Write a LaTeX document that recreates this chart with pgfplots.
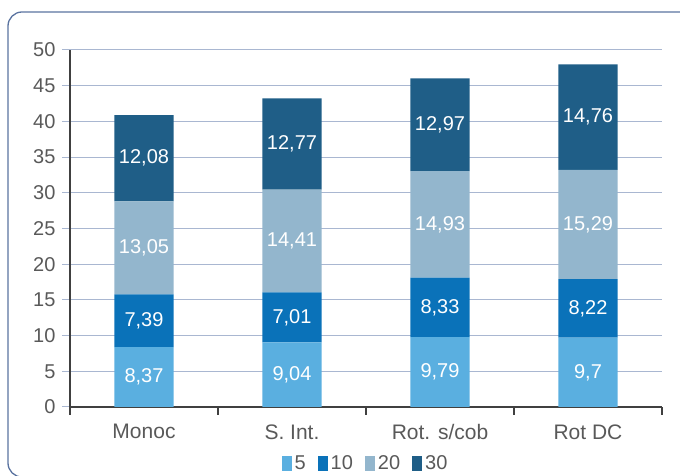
\documentclass[border=0pt]{standalone}
\usepackage{pgfplots}
\pgfplotsset{compat=1.18}
\usepackage{pgfplotstable}
\usepackage{fontspec}
\setmainfont{Liberation Sans}

\definecolor{cFive}{HTML}{5AAFE0}
\definecolor{cTen}{HTML}{0A72B9}
\definecolor{cTwenty}{HTML}{93B6CD}
\definecolor{cThirty}{HTML}{1F5E87}
\definecolor{gridcol}{HTML}{A9B7D1}
\definecolor{axiscol}{HTML}{404040}
\definecolor{labelcol}{HTML}{595959}
\definecolor{framecol}{HTML}{5A73A0}

% one row per group, one column per series
\pgfplotstableread{
x v5 v10 v20 v30
0 8.37 7.39 13.05 12.08
1 9.04 7.01 14.41 12.77
2 9.79 8.33 14.93 12.97
3 9.7 8.22 15.29 14.76
}\datatable

\begin{document}
\begin{tikzpicture}
\useasboundingbox (0,0) rectangle (680pt,476pt);
\clip (0,0) rectangle (680pt,476pt);
\draw[framecol, line width=1.3pt, rounded corners=14pt] (8pt,464pt) rectangle (720pt,-1pt);
\begin{axis}[
  at={(70pt,69pt)}, anchor=south west,
  scale only axis, width=592pt, height=357pt,
  ybar stacked, bar width=0.4,
  xmin=-0.5, xmax=3.5, ymin=0, ymax=50,
  enlarge x limits=false,
  axis lines=left,
  axis line style={-, draw=axiscol, line width=1.2pt},
  ytick={0,5,...,50},
  xtick={0,1,2,3},
  xticklabels={Monoc, S. Int., Rot. s/cob, Rot DC},
  minor xtick={-0.5,0.5,1.5,2.5,3.5},
  tick align=outside,
  major tick length=8pt, minor tick length=8pt,
  major x tick style={draw=none},
  minor x tick style={draw=axiscol, line width=1.2pt},
  ytick style={draw=gridcol, line width=1pt},
  ymajorgrids,
  grid style={draw=gridcol, line width=1pt},
  /pgf/number format/assume math mode=true,
  yticklabel style={font=\fontsize{20}{24}\selectfont, text=labelcol, xshift=-3pt},
  xticklabel style={font=\fontsize{21}{25}\selectfont, text=labelcol, yshift=-6pt},
  point meta=explicit,
  nodes near coords={\pgfmathprintnumber[fixed, precision=2, use comma, assume math mode=true]{\pgfplotspointmeta}},
  every node near coord/.append style={
    font=\fontsize{20}{24}\selectfont, text=white, anchor=center},
  legend style={draw=none, fill=none, at={(0.5,-0.157)}, anchor=center,
    legend columns=4, font=\fontsize{20}{24}\selectfont, text=labelcol,
    nodes={inner sep=3pt},
    /tikz/every even column/.append style={column sep=9pt}},
  legend image code/.code={\fill[#1] (0pt,-7.5pt) rectangle (10pt,7pt);},
]
\addplot[fill=cFive, draw=none] table[x=x, y=v5, meta=v5] {\datatable};
\addplot[fill=cTen, draw=none] table[x=x, y=v10, meta=v10] {\datatable};
\addplot[fill=cTwenty, draw=none] table[x=x, y=v20, meta=v20] {\datatable};
\addplot[fill=cThirty, draw=none] table[x=x, y=v30, meta=v30] {\datatable};
\legend{5,10,20,30}
\end{axis}
\end{tikzpicture}
\end{document}
